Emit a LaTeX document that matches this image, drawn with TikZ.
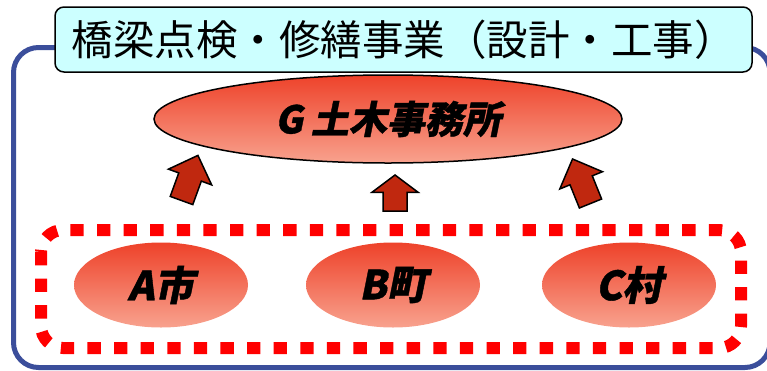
\documentclass[tikz,border=0pt]{standalone}
\usepackage{fontspec}
\setmainfont{Noto Sans CJK JP}
\newfontfamily\cjkbold{Noto Sans CJK JP}[FakeSlant=0.2, FakeBold=1]
\usetikzlibrary{shapes.geometric}
\definecolor{outerblue}{RGB}{59,78,155}
\definecolor{titlecyan}{RGB}{204,255,255}
\definecolor{redtop}{RGB}{238,66,42}
\definecolor{redbot}{RGB}{248,162,142}
\definecolor{arrowred}{RGB}{192,40,15}
\tikzset{
  frame/.style={draw=outerblue, line width=5pt, rounded corners=25pt},
  titlebox/.style={draw=black, line width=1.5pt, fill=titlecyan, rounded corners=9pt,
    minimum width=697pt, minimum height=65pt, inner sep=0pt,
    font=\fontsize{41.5}{45}\selectfont},
  office/.style={ellipse, draw=black, line width=1.5pt, top color=redtop, bottom color=redbot,
    minimum width=468pt, minimum height=88pt, inner sep=0pt,
    font=\cjkbold\bfseries\fontsize{38}{40}\selectfont},
  town/.style={ellipse, top color=redtop, bottom color=redbot,
    minimum width=174pt, minimum height=85pt, inner sep=0pt,
    font=\cjkbold\bfseries\fontsize{40}{42}\selectfont},
  groupbox/.style={draw=red, line width=12pt, dash pattern=on 13.3pt off 13.3pt, rounded corners=22pt},
  uparrow/.style={fill=arrowred, draw=black, line width=1.5pt, line join=miter},
  blockarrow/.pic={
    \draw[uparrow] (-12,0) -- (12,0) -- (12,-25) -- (23,-25) -- (0,-48)
      -- (-23,-25) -- (-12,-25) -- cycle;
  },
}
\begin{document}
\begin{tikzpicture}[x=1pt, y=-1pt]
  \useasboundingbox (0,0) rectangle (767,370);
  % outer frame
  \draw[frame] (13.5,47.5) rectangle (770,367.5);
  % title
  \node[titlebox] (title) at (403.5,39.5) {橋梁点検・修繕事業（設計・工事）};
  % office
  \node[office] (office) at (388,119) {G\hspace{8pt}土木事務所};
  % group of municipalities
  \draw[groupbox] (41,230) rectangle (741,348);
  \node[town] (townA) at (161,285) {A市};
  \node[town] (townB) at (393,285) {B町};
  \node[town] (townC) at (629,285) {C村};
  % block arrows
  \pic[rotate=-20] at (181.5,200.5) {blockarrow};
  \pic[yscale=0.75] at (395,211) {blockarrow};
  \pic[rotate=22] at (590.5,203.5) {blockarrow};
\end{tikzpicture}
\end{document}
